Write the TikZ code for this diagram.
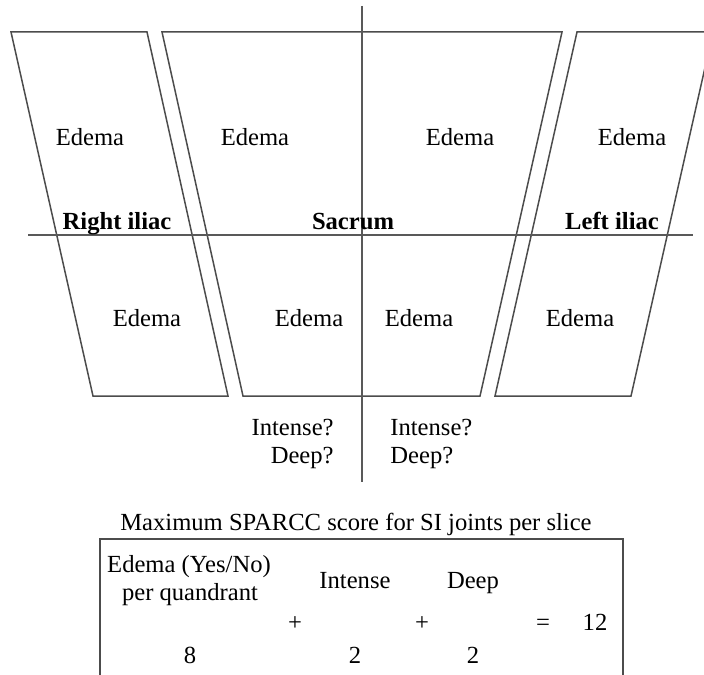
\documentclass[tikz,border=0pt]{standalone}
\usepackage{fontspec}
\setmainfont{Liberation Serif}
\begin{document}
\begin{tikzpicture}[x=0.5pt,y=-0.5pt,
  outline/.style={draw=black!70, line width=0.75pt, line join=miter},
  axis/.style={draw=black!65, line width=0.75pt},
  lbl/.style={inner sep=0pt, text height=11.4pt, text depth=2.6pt,
    font=\fontsize{12.3}{14.5}\selectfont},
  region/.style={lbl, font=\fontsize{12.3}{14.5}\selectfont\bfseries}]
\useasboundingbox (0,0) rectangle (704,674);
\clip (0,0) rectangle (704,674);

% iliac and sacral outlines
\draw[outline] (11,32) -- (147,32) -- (228,396) -- (93,396) -- cycle;
\draw[outline] (162,32) -- (562,32) -- (480,396) -- (243,396) -- cycle;
\draw[outline] (577,32) -- (713,32) -- (631,396) -- (495,396) -- cycle;

% quadrant axes
\coordinate (hl) at (28,235);
\coordinate (hr) at (693,235);
\coordinate (vt) at (362,6);
\coordinate (vb) at (362,482);
\draw[axis] (hl) -- (hr);
\draw[axis] (vt) -- (vb);

% quadrant labels
\node[lbl] (e1) at (90,137) {Edema};
\node[lbl] (e2) at (255,137) {Edema};
\node[lbl] (e3) at (460,137) {Edema};
\node[lbl] (e4) at (632,137) {Edema};
\node[lbl] (e5) at (147,318) {Edema};
\node[lbl] (e6) at (309,318) {Edema};
\node[lbl] (e7) at (419,318) {Edema};
\node[lbl] (e8) at (580,318) {Edema};

\node[region] (ri) at (117,221) {Right iliac};
\node[region] (sa) at (353,221) {Sacrum};
\node[region] (li) at (612,221) {Left iliac};

% intensity and depth questions
\node[lbl, anchor=east] (i1) at (334,427) {Intense?};
\node[lbl, anchor=east] (d1) at (334,455) {Deep?};
\node[lbl, anchor=west] (i2) at (390,427) {Intense?};
\node[lbl, anchor=west] (d2) at (390,455) {Deep?};

% score summary
\node[lbl] (title) at (356,522) {Maximum SPARCC score for SI joints per slice};
\draw[outline] (100,690) -- (100,539) -- (623,539) -- (623,690);

\node[lbl] (ed1) at (189,564) {Edema (Yes/No)};
\node[lbl] (ed2) at (190,592) {per quandrant};
\node[lbl] (in) at (355,580) {Intense};
\node[lbl] (dp) at (473,580) {Deep};
\node[lbl] (p1) at (295,622) {+};
\node[lbl] (p2) at (422,622) {+};
\node[lbl] (eq) at (543,622) {=};
\node[lbl] (tot) at (595,622) {12};
\node[lbl] (n8) at (190,655) {8};
\node[lbl] (n2a) at (355,655) {2};
\node[lbl] (n2b) at (473,655) {2};
\end{tikzpicture}
\end{document}
